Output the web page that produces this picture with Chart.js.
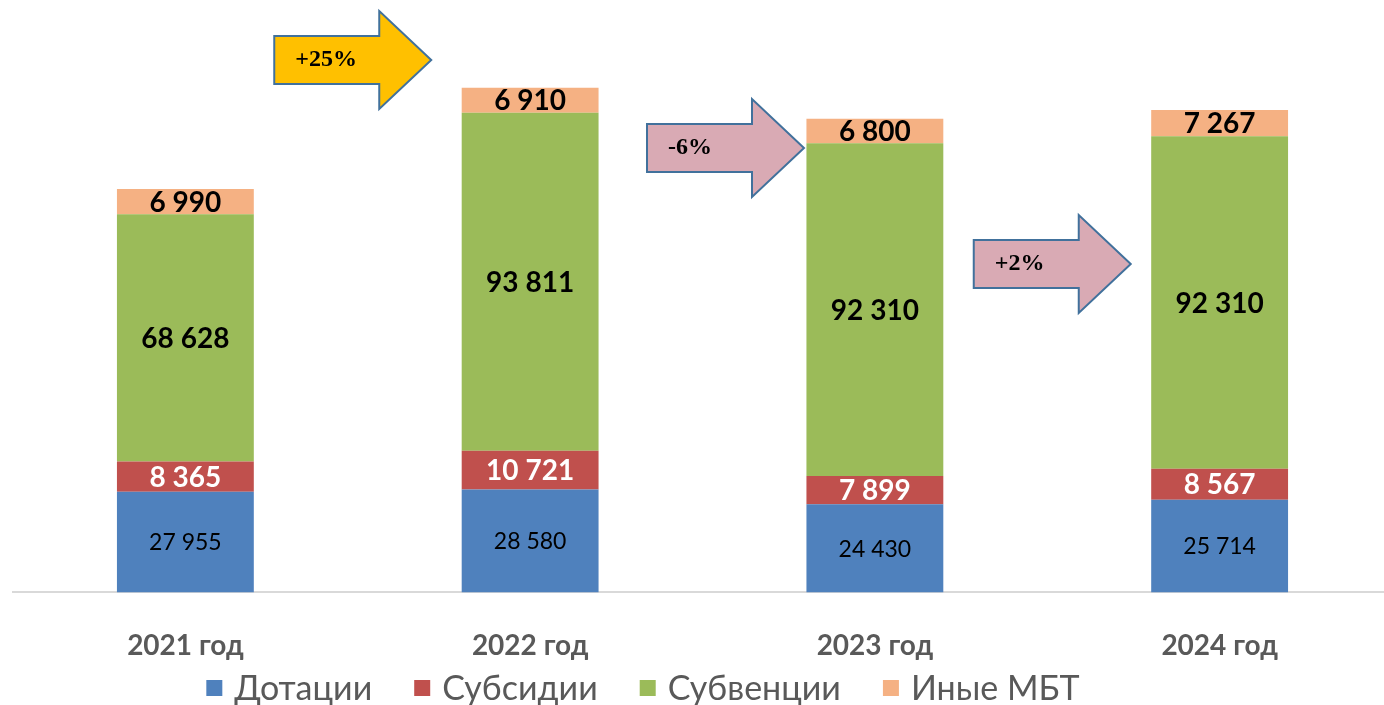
<!DOCTYPE html>
<html lang="ru">
<head>
<meta charset="utf-8">
<title>Межбюджетные трансферты</title>
<script src="https://cdn.jsdelivr.net/npm/chart.js@4.4.1/dist/chart.umd.min.js"></script>
<style>
    html, body { margin: 0; padding: 0; background: #fff; overflow: hidden; }
    #wrap { width: 1392px; height: 705px; }
</style>
</head>
<body>
<div id="wrap"><canvas id="mbtChart" width="1392" height="705"></canvas></div>
<script>
// Data
const years = ['2021 год', '2022 год', '2023 год', '2024 год'];
const dotacii = [27955, 28580, 24430, 25714];
const subsidii = [8365, 10721, 7899, 8567];
const subvencii = [68628, 93811, 92310, 92310];
const inyeMbt = [6990, 6910, 6800, 7267];
const growthLabels = ['+25%', '-6%', '+2%'];

const fmt = v => String(v).replace(/\B(?=(\d{3})+(?!\d))/g, ' ');

// label style per dataset
const labelStyles = [
    { color: '#000000', font: '23px Lato' },
    { color: '#FFFFFF', font: 'bold 28px Lato' },
    { color: '#000000', font: 'bold 28px Lato' },
    { color: '#000000', font: 'bold 28px Lato' }
];

const barLabels = {
    id: 'barLabels',
    afterDatasetsDraw(chart) {
        const ctx = chart.ctx;
        ctx.save();
        ctx.textAlign = 'center';
        ctx.textBaseline = 'middle';
        chart.data.datasets.forEach((ds, i) => {
            const meta = chart.getDatasetMeta(i);
            ctx.fillStyle = labelStyles[i].color;
            ctx.font = labelStyles[i].font;
            meta.data.forEach((bar, j) => {
                ctx.fillText(fmt(ds.data[j]), bar.x, (bar.y + bar.base) / 2 + 1);
            });
        });
        ctx.restore();
    }
};

// growth arrows between the columns
const arrowStyles = [
    { fill: '#FFC000', dx: -5, tipY: 60 },
    { fill: '#D9AAB4', dx: 23, tipY: 148 },
    { fill: '#D9AAB4', dx: 5, tipY: 264 }
];

const growthArrows = {
    id: 'growthArrows',
    afterDraw(chart) {
        const ctx = chart.ctx;
        const xs = chart.scales.x;
        const w = 157, bodyW = 105, bodyH = 48, headH = 98;
        ctx.save();
        growthLabels.forEach((txt, i) => {
            const st = arrowStyles[i];
            const cx = (xs.getPixelForValue(i) + xs.getPixelForValue(i + 1)) / 2 + st.dx;
            const left = cx - w / 2;
            const cy = chart.chartArea.top + st.tipY;
            ctx.beginPath();
            ctx.moveTo(left, cy - bodyH / 2);
            ctx.lineTo(left + bodyW, cy - bodyH / 2);
            ctx.lineTo(left + bodyW, cy - headH / 2);
            ctx.lineTo(left + w, cy);
            ctx.lineTo(left + bodyW, cy + headH / 2);
            ctx.lineTo(left + bodyW, cy + bodyH / 2);
            ctx.lineTo(left, cy + bodyH / 2);
            ctx.closePath();
            ctx.fillStyle = st.fill;
            ctx.fill();
            ctx.lineWidth = 2;
            ctx.strokeStyle = '#41719C';
            ctx.stroke();

            ctx.fillStyle = '#000';
            ctx.font = 'bold 24px "Liberation Serif"';
            ctx.textAlign = 'left';
            ctx.textBaseline = 'middle';
            ctx.fillText(txt, left + 21, cy);
        });
        ctx.restore();
    }
};

// legend drawn under the year labels
const bottomLegend = {
    id: 'bottomLegend',
    afterDraw(chart) {
        const ctx = chart.ctx;
        const box = 16, gapText = 12, gapItem = 42;
        const centerX = 643, centerY = 688;
        ctx.save();
        ctx.font = '34px Lato';
        ctx.textBaseline = 'middle';
        ctx.textAlign = 'left';
        const items = chart.data.datasets.map(ds => ({
            text: ds.label,
            color: ds.backgroundColor,
            w: box + gapText + ctx.measureText(ds.label).width
        }));
        const total = items.reduce((s, it) => s + it.w, 0) + gapItem * (items.length - 1);
        let x = centerX - total / 2;
        items.forEach(it => {
            ctx.fillStyle = it.color;
            ctx.fillRect(x, centerY - box / 2, box, box);
            ctx.fillStyle = '#595959';
            ctx.fillText(it.text, x + box + gapText, centerY + 1);
            x += it.w + gapItem;
        });
        ctx.restore();
    }
};

const chartCanvas = document.getElementById('mbtChart');
new Chart(chartCanvas, {
    type: 'bar',
    data: {
        labels: years,
        datasets: [
            { label: 'Дотации', data: dotacii, backgroundColor: '#4F81BD' },
            { label: 'Субсидии', data: subsidii, backgroundColor: '#C0504D' },
            { label: 'Субвенции', data: subvencii, backgroundColor: '#9BBB59' },
            { label: 'Иные МБТ', data: inyeMbt, backgroundColor: '#F5B183' }
        ]
    },
    options: {
        responsive: false,
        animation: false,
        layout: {
            padding: { left: 13, right: 0, top: 0, bottom: 5 }
        },
        datasets: {
            bar: {
                barPercentage: 0.397,
                categoryPercentage: 1,
                borderWidth: 0
            }
        },
        plugins: {
            legend: { display: false },
            tooltip: { enabled: false }
        },
        scales: {
            x: {
                stacked: true,
                grid: { display: false, drawTicks: false },
                border: { color: '#D9D9D9', width: 2 },
                ticks: {
                    color: '#595959',
                    padding: 37,
                    font: { family: 'Lato', size: 28, weight: 'bold' }
                }
            },
            y: {
                stacked: true,
                display: false,
                min: 0,
                max: 164400
            }
        }
    },
    plugins: [barLabels, growthArrows, bottomLegend]
});
</script>
</body>
</html>
